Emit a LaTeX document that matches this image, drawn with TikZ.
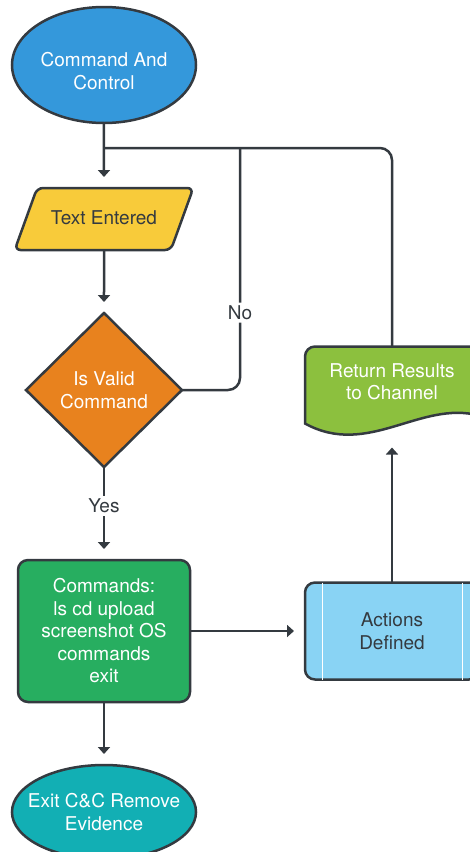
\documentclass[tikz,border=0pt]{standalone}
\usepackage{fontspec}
\setmainfont{TeX Gyre Heros}
\usetikzlibrary{shapes.geometric, arrows.meta, positioning, backgrounds}

\definecolor{ccline}{HTML}{343A40}
\definecolor{ccblue}{HTML}{3498DB}
\definecolor{ccyellow}{HTML}{F8CB3A}
\definecolor{ccorange}{HTML}{E8821E}
\definecolor{ccgreen}{HTML}{27AE60}
\definecolor{cclime}{HTML}{8CC03E}
\definecolor{ccsky}{HTML}{89D3F4}
\definecolor{ccteal}{HTML}{12AFB4}

\begin{document}
\begin{tikzpicture}[
    x=1pt, y=-1pt,
    font=\fontsize{19}{22.5}\selectfont,
    base/.style={draw=ccline, line width=2.5pt, align=center, text=white, inner sep=0pt, outer sep=0pt},
    terminal/.style={base, ellipse, minimum width=184pt, minimum height=116pt},
    io/.style={base, trapezium, trapezium left angle=74, trapezium right angle=106, trapezium stretches=true,
        text height=14pt, text depth=4pt, inner ysep=22pt,
        minimum width=179pt, minimum height=62pt, rounded corners=6pt, fill=ccyellow, text=ccline},
    decision/.style={base, diamond, minimum width=156pt, minimum height=154pt, fill=ccorange},
    process/.style={base, rectangle, rounded corners=10pt, minimum width=172pt, minimum height=142pt, fill=ccgreen},
    predef/.style={base, rectangle, rounded corners=10pt, minimum width=174pt, minimum height=97pt, fill=ccsky, text=ccline},
    docbox/.style={inner sep=0pt, outer sep=0pt, minimum width=174pt, minimum height=90pt},
    doctext/.style={align=center, text=white, yshift=10pt},
    line/.style={draw=ccline, line width=2.5pt},
    arrow/.style={line, -{Triangle[width=12pt,length=7pt]}, shorten >=11pt},
    lbl/.style={fill=white, text=ccline, inner sep=3pt},
    node distance=65pt and 115pt
]
\useasboundingbox (0,0) rectangle (469,852);

% nodes
\node[terminal, fill=ccblue] (cc) at (104,65) {\rule{0pt}{26pt}Command And\\Control};
\node[io, below=of cc] (txt) {Text Entered};
\node[decision, below=63pt of txt] (valid) {Is Valid\\Command};
\node[process, below=93pt of valid] (cmds) {Commands:\\ls cd upload\\screenshot OS\\commands\\exit};
\node[terminal, fill=ccteal, inner xsep=-11pt, minimum width=178pt, minimum height=94pt, below=63pt of cmds] (exitcc) {Exit C\&C Remove\\Evidence};
\node[predef, right=of cmds] (act) {Actions\\Defined};
\node[docbox, above=146pt of act, label={[doctext]center:Return Results\\to Channel}] (ret) {};

\coordinate (nojoin) at (240,148);
\coordinate (merge) at (cc.south |- nojoin);

% document shape and predefined bars
\begin{scope}[on background layer]
\filldraw[line, fill=cclime] ([yshift=13pt]ret.south west) [rounded corners=10pt] -- (ret.north west)
    -- (ret.north east) [sharp corners] -- ([yshift=21pt]ret.south east)
    .. controls (420,400) and (368,458) .. ([yshift=13pt]ret.south west) -- cycle;
\end{scope}
\draw[white, line width=1pt] ([xshift=17pt]act.north west) -- ([xshift=17pt]act.south west);
\draw[white, line width=1pt] ([xshift=-17pt]act.north east) -- ([xshift=-17pt]act.south east);

% connectors
\draw[arrow] (cc) -- (txt);
\draw[arrow] (txt) -- (valid);
\draw[arrow] (valid) -- node[lbl, pos=0.42] {Yes} (cmds);
\draw[arrow] (cmds) -- (exitcc);
\draw[arrow] (cmds) -- (act);
\draw[arrow] (act) -- (ret);
\draw[line, rounded corners=12pt] (ret.north) |- (merge);
\draw[line, rounded corners=12pt] (valid.east) -| node[lbl, pos=0.66] {No} (nojoin);

\end{tikzpicture}
\end{document}
